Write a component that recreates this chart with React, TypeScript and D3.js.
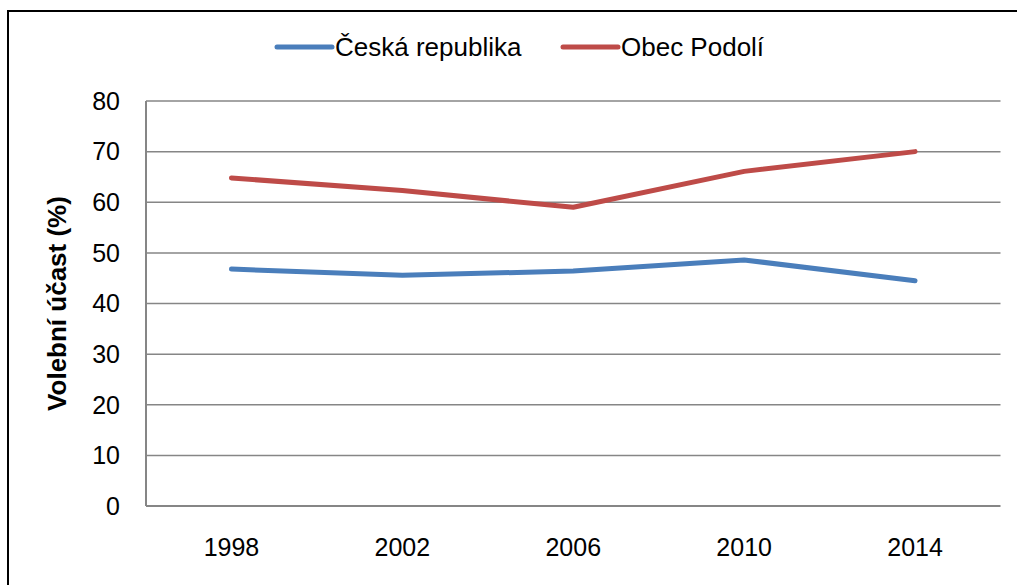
import React from "react";
import * as d3 from "d3";

const years = ["1998", "2002", "2006", "2010", "2014"];
const czValues = [46.8, 45.6, 46.4, 48.6, 44.5];
const podoliValues = [64.8, 62.3, 59.0, 66.1, 70.0];
const yTicks = [0, 10, 20, 30, 40, 50, 60, 70, 80];
const seriesNames = ["Česká republika", "Obec Podolí"];
const seriesColors = ["#4a7ebb", "#be4b48"];

export default function App() {
  const W = 1017, H = 585;
  const left = 146, right = 1000.5, top = 101, bottom = 506;
  const x = d3.scaleBand<string>().domain(years).range([left, right]);
  const y = d3.scaleLinear().domain([0, 80]).range([bottom, top]);
  const line = d3
    .line<number>()
    .x((_, i) => (x(years[i]) as number) + x.bandwidth() / 2)
    .y((d) => y(d));
  const series = [czValues, podoliValues];
  const font = "Liberation Sans, Arial, sans-serif";
  const legendX = [277, 563];
  return (
    <svg
      width={W}
      height={H}
      style={{ position: "absolute", left: 0, top: 0 }}
      fontFamily={font}
    >
      <rect x={0} y={0} width={W} height={H} fill="#fff" />
      <path d={`M8,${H + 5} V11 H${W + 5}`} fill="none" stroke="#000" strokeWidth={2} />
      {yTicks.map((t) => (
        <g key={t}>
          <line
            x1={left}
            x2={right}
            y1={y(t)}
            y2={y(t)}
            stroke="#868686"
            strokeWidth={t === 0 ? 2 : 1.5}
          />
          <text x={120} y={y(t)} dy="0.35em" textAnchor="end" fontSize={25} fill="#000">
            {t}
          </text>
        </g>
      ))}
      <line x1={left} x2={left} y1={top} y2={bottom} stroke="#868686" strokeWidth={2} />
      {years.map((yr) => (
        <text
          key={yr}
          x={(x(yr) as number) + x.bandwidth() / 2}
          y={547}
          dy="0.35em"
          textAnchor="middle"
          fontSize={25}
          fill="#000"
        >
          {yr}
        </text>
      ))}
      <text
        transform={`translate(57,${(top + bottom) / 2}) rotate(-90)`}
        textAnchor="middle"
        dy="0.35em"
        fontSize={26}
        fontWeight="bold"
        fill="#000"
      >
        Volební účast (%)
      </text>
      {series.map((vals, i) => (
        <path
          key={i}
          d={line(vals) as string}
          fill="none"
          stroke={seriesColors[i]}
          strokeWidth={5}
          strokeLinejoin="round"
          strokeLinecap="round"
        />
      ))}
      {seriesNames.map((n, i) => (
        <g key={n}>
          <line
            x1={legendX[i]}
            x2={legendX[i] + 55}
            y1={47}
            y2={47}
            stroke={seriesColors[i]}
            strokeWidth={5}
            strokeLinecap="round"
          />
          <text x={legendX[i] + 58} y={47} dy="0.35em" fontSize={26} fill="#000">
            {n}
          </text>
        </g>
      ))}
    </svg>
  );
}
